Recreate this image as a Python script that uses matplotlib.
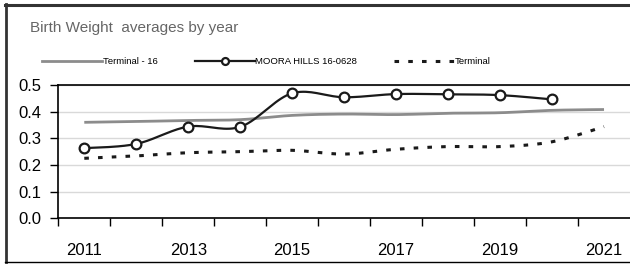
import numpy as np
import matplotlib
matplotlib.use("Agg")
import matplotlib.pyplot as plt
from matplotlib import font_manager
from matplotlib.lines import Line2D

years = [2011, 2012, 2013, 2014, 2015, 2016, 2017, 2018, 2019, 2020, 2021]
terminal_16 = [0.360, 0.363, 0.367, 0.370, 0.386, 0.391, 0.389, 0.394, 0.396, 0.405, 0.408]
moora_hills = [0.263, 0.279, 0.344, 0.343, 0.469, 0.454, 0.466, 0.465, 0.462, 0.446]
terminal = [0.225, 0.234, 0.246, 0.250, 0.255, 0.241, 0.259, 0.269, 0.269, 0.287, 0.344]
yticks = [0.0, 0.1, 0.2, 0.3, 0.4, 0.5]

names = set(f.name for f in font_manager.fontManager.ttflist)
narrow = "Liberation Sans Narrow" if "Liberation Sans Narrow" in names else "Liberation Sans"


def smooth(x, y, n=20):
    # excel style smoothed line (catmull-rom through every point)
    x = np.asarray(x, float)
    y = np.asarray(y, float)
    px = np.concatenate([[x[0]], x, [x[-1]]])
    py = np.concatenate([[y[0]], y, [y[-1]]])
    xs, ys = [], []
    t = np.linspace(0, 1, n)
    for i in range(1, len(px) - 2):
        for p, out in ((px, xs), (py, ys)):
            p0, p1, p2, p3 = p[i - 1], p[i], p[i + 1], p[i + 2]
            c1 = p1 + (p2 - p0) / 6
            c2 = p2 - (p3 - p1) / 6
            out.extend((1 - t) ** 3 * p1 + 3 * (1 - t) ** 2 * t * c1 + 3 * (1 - t) * t ** 2 * c2 + t ** 3 * p2)
    return np.array(xs), np.array(ys)


fig = plt.figure(figsize=(6.3, 2.65), dpi=100)
ax = fig.add_axes([58.3 / 630, 1 - 218.3 / 265, 1 - 58.3 / 630, (218.3 - 85) / 265])

idx = np.arange(len(years))

sx, sy = smooth(idx, terminal_16)
ax.plot(sx, sy, color="#8c8c8c", lw=2.0, solid_capstyle="butt", zorder=3)

sx, sy = smooth(idx[:len(moora_hills)], moora_hills)
ax.plot(sx, sy, color="#1a1a1a", lw=1.6, zorder=4)
ax.plot(idx[:len(moora_hills)], moora_hills, ls="none", marker="o", ms=7,
        mfc="white", mec="#1a1a1a", mew=1.6, zorder=5)

sx, sy = smooth(idx, terminal)
ax.plot(sx, sy, color="#1a1a1a", lw=2.2, ls=(0, (1.5, 3)), zorder=3)

ax.set_xlim(-0.5, len(years) - 0.5)
ax.set_ylim(0, 0.5)
ax.set_yticks(yticks)
ax.set_yticklabels(["%.1f" % v for v in yticks], fontsize=12, family=narrow)
ax.yaxis.grid(True, color="#d9d9d9", lw=1)
ax.set_axisbelow(True)

ax.set_xticks(np.arange(len(years)) - 0.5)
ax.set_xticklabels([])
ax.set_xticks(idx[::2], minor=True)
ax.set_xticklabels([str(y) for y in years[::2]], minor=True, fontsize=12, family=narrow)
ax.tick_params(axis="x", which="major", length=6, width=1, direction="out", color="black")
ax.tick_params(axis="x", which="minor", length=0, pad=18)
ax.tick_params(axis="y", length=6, width=1, color="black", pad=6)

for s in ["left", "bottom", "top"]:
    ax.spines[s].set_color("black")
    ax.spines[s].set_linewidth(1.2)
ax.spines["right"].set_visible(False)

fig.text(30 / 630, 1 - 28 / 265, "Birth Weight  averages by year", fontsize=11,
         color="#666666", family="Liberation Sans", va="center", ha="left")

handles = [
    Line2D([], [], color="#8c8c8c", lw=2.0),
    Line2D([], [], color="#1a1a1a", lw=1.6, marker="o", ms=5, mfc="white", mec="#1a1a1a", mew=1.6),
    Line2D([], [], color="#1a1a1a", lw=2.2, ls=(0, (1.5, 3))),
]
fig.legend(handles, ["Terminal - 16", "MOORA HILLS 16-0628", "Terminal"], ncol=3,
           loc="center left", bbox_to_anchor=(42 / 630, 1 - 62 / 265), frameon=False,
           prop={"family": narrow, "size": 6.8}, handlelength=6.4, handletextpad=0.05,
           columnspacing=3.9, borderpad=0, borderaxespad=0)

# outer chart frame
fig.add_artist(Line2D([6 / 630, 6 / 630], [1 - 4 / 265, 1 - 262 / 265], transform=fig.transFigure, color="#333333", lw=2))
fig.add_artist(Line2D([5 / 630, 1], [1 - 4.5 / 265, 1 - 4.5 / 265], transform=fig.transFigure, color="#333333", lw=2.2))
fig.add_artist(Line2D([5 / 630, 1], [1 - 262 / 265, 1 - 262 / 265], transform=fig.transFigure, color="black", lw=1))

fig.savefig("out.png", dpi=100)
